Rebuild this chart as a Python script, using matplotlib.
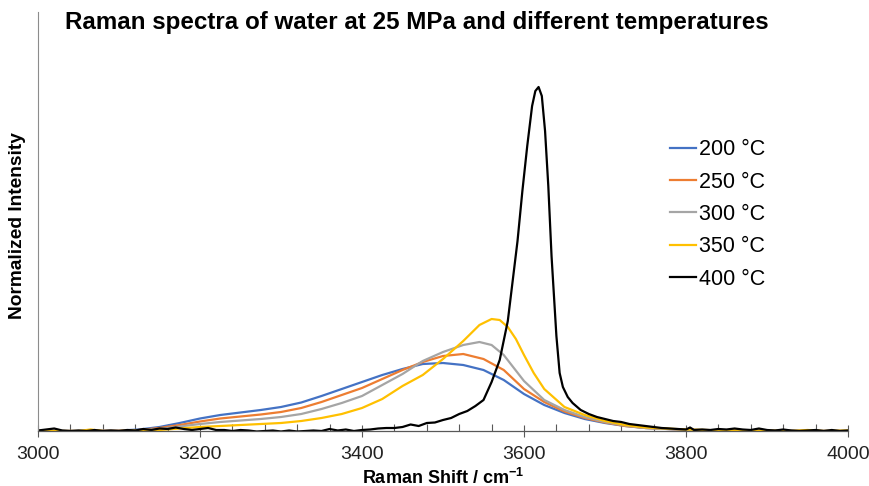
import matplotlib
matplotlib.use("Agg")
import matplotlib.pyplot as plt
from matplotlib.ticker import MultipleLocator

plt.rcParams['font.family'] = ['Liberation Sans', 'DejaVu Sans']

title = "Raman spectra of water at 25 MPa and different temperatures"
xlabel = "Raman Shift / cm$^{\\mathregular{-1}}$"
ylabel = "Normalized Intensity"
labels = ["200 °C", "250 °C", "300 °C", "350 °C", "400 °C"]
colors = ["#4472C4", "#ED7D31", "#A5A5A5", "#FFC000", "#000000"]

x_200 = [3000, 3050, 3100, 3125, 3150, 3175, 3200, 3225, 3250, 3275, 3300, 3325, 3350, 3375, 3400, 3425,
         3450, 3475, 3500, 3525, 3550, 3575, 3600, 3625, 3650, 3675, 3700, 3725, 3750, 3800, 3850, 3900, 4000]
y_200 = [0, 0, 0.5, 1.5, 4, 8, 12.5, 16, 18.5, 21, 24, 28.5, 35, 42, 49, 56,
         62, 67, 68, 66, 61, 51, 37, 26, 18, 12, 8, 5, 3, 1.2, 0.5, 0.2, 0]

x_250 = [3000, 3050, 3100, 3125, 3150, 3175, 3200, 3225, 3250, 3275, 3300, 3325, 3350, 3375, 3400, 3425,
         3450, 3475, 3500, 3525, 3550, 3575, 3600, 3625, 3650, 3675, 3700, 3725, 3750, 3800, 3850, 3900, 4000]
y_250 = [0, 0, 0.3, 1, 3, 6, 9.5, 12.5, 14.5, 16.5, 19, 23, 29, 36, 43, 52,
         61, 69, 75, 77, 72, 61, 42, 29, 19.5, 13, 8.5, 5, 3, 1.2, 0.5, 0.2, 0]

x_300 = [3000, 3050, 3100, 3125, 3150, 3175, 3200, 3225, 3250, 3275, 3300, 3325, 3350, 3375, 3400, 3425,
         3450, 3475, 3500, 3525, 3545, 3560, 3575, 3600, 3625, 3650, 3675, 3700, 3725, 3750, 3800, 3850, 3900, 4000]
y_300 = [0, 0, 0.2, 0.8, 2, 4.5, 7, 9, 10.5, 12, 14, 17, 22, 28, 35, 46,
         57, 70, 79, 86, 89, 86, 76, 50, 31, 21, 14, 9, 5.5, 3, 1.2, 0.5, 0.2, 0]

x_350 = [3000, 3050, 3065, 3080, 3100, 3125, 3150, 3175, 3200, 3225, 3250, 3275, 3300, 3325, 3350, 3375, 3400,
         3425, 3450, 3475, 3500, 3525, 3545, 3560, 3570, 3580, 3590, 3600, 3612, 3625, 3650, 3675, 3700,
         3725, 3750, 3800, 3850, 3900, 3930, 3950, 3970, 4000]
y_350 = [0, 0, 1.5, 0, 0, 0.5, 1, 2.5, 4, 5, 6, 7, 8, 10, 13, 17, 23,
         32, 45, 56, 72, 90, 106, 112, 111, 104, 92, 76, 58, 42, 24, 16, 10,
         6, 3.5, 1.5, 0.5, 0.3, 0, 1, 0, 0.5]

x_400 = [3000, 3010, 3020, 3030, 3040, 3050, 3060, 3070, 3080, 3090, 3100, 3110, 3120, 3130, 3140, 3150,
         3160, 3170, 3180, 3190, 3200, 3210, 3220, 3230, 3240, 3250, 3260, 3270, 3280, 3290, 3300, 3310,
         3320, 3330, 3340, 3350, 3360, 3370, 3380, 3390, 3400, 3410, 3420, 3430, 3440, 3450, 3460, 3470,
         3480, 3490, 3500, 3510, 3520, 3530, 3540, 3550, 3560, 3570, 3580, 3586, 3592, 3598, 3604, 3610,
         3614, 3618, 3622, 3626, 3630, 3634, 3637, 3640, 3644, 3648, 3654, 3660, 3670, 3680, 3690, 3700,
         3710, 3720, 3730, 3740, 3750, 3760, 3770, 3780, 3790, 3800, 3805, 3810, 3820, 3830, 3840, 3850,
         3860, 3870, 3880, 3890, 3900, 3910, 3920, 3930, 3940, 3950, 3960, 3970, 3980, 3990, 4000]
y_400 = [0.5, 1.5, 2.5, 0.5, 0, 0.5, 0, 1, 0, 0.5, 0, 1, 0.5, 2, 1, 2.5,
         2, 3.5, 2, 1, 2, 3, 1, 1, 0, 1, 0.5, -0.5, 0, 0.5, -0.5, 0.5,
         -0.5, 0, 0.5, 0, 2, 0.5, 1.5, 0, 1, 1.5, 2.5, 3, 3, 4, 6.5, 5,
         8, 8.5, 11, 13, 17, 20, 25, 31, 49, 71, 110, 150, 190, 240, 285, 325,
         340, 344, 335, 300, 245, 175, 135, 95, 58, 44, 34, 28, 21, 17, 14, 12,
         10, 9, 7, 6, 5, 4, 3, 2.5, 2, 1.5, 3.5, 1, 1.5, 1, 2, 1.5,
         2.5, 1.5, 1, 2.5, 1, 0.5, 1.5, 0.5, 0, 0.5, 1, 0, 1, 0, 0.5]

series = [(x_200, y_200), (x_250, y_250), (x_300, y_300), (x_350, y_350), (x_400, y_400)]

fig = plt.figure(figsize=(8.7, 4.86), dpi=100)
ax = fig.add_axes([38/870, 1 - 431/486, (848 - 38)/870, (431 - 12)/486])

for (xs, ys), lab, col in zip(series, labels, colors):
    ax.plot(xs, ys, color=col, lw=1.6, label=lab, solid_joinstyle='round')

ax.set_xlim(3000, 4000)
ax.set_ylim(0, 419)
ax.xaxis.set_major_locator(MultipleLocator(200))
ax.xaxis.set_minor_locator(MultipleLocator(40))
ax.set_yticks([])
ax.tick_params(axis='x', which='major', direction='inout', length=9, width=0.8,
               color='#595959', labelsize=14, labelcolor='#222222', pad=6)
ax.tick_params(axis='x', which='minor', direction='in', length=5, width=0.8, color='#595959')

for s in ['top', 'right']:
    ax.spines[s].set_visible(False)
ax.spines['left'].set_color('#8c8c8c')
ax.spines['left'].set_linewidth(0.8)
ax.spines['bottom'].set_color('#595959')
ax.spines['bottom'].set_linewidth(0.9)

ax.set_xlabel(xlabel, fontsize=13, fontweight='bold', labelpad=3.5)
fig.text(18/870, 1 - 226/486, ylabel, rotation=90, fontsize=13.8, fontweight='bold',
         ha='center', va='center')
fig.text(65/870, 1 - 22/486, title, fontsize=17.4, fontweight='bold', ha='left', va='center')

leg = ax.legend(loc='upper left', bbox_to_anchor=(0.769, 0.717), frameon=False, fontsize=15.5,
                handlelength=1.25, handletextpad=0.12, labelspacing=0.53, borderaxespad=0)

fig.savefig("out.png", dpi=100)
